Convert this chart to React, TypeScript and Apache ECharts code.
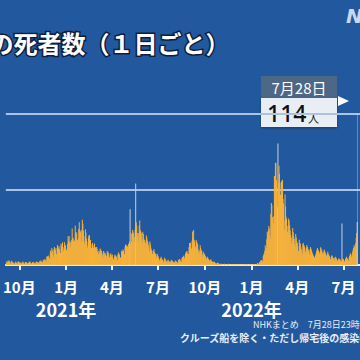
import React, { useEffect, useRef } from "react";
import * as echarts from "echarts";

// Daily deaths, month by month
const sep2020 = [9,6,3,9,12,10,11,8,5,3,10,11,8,7,6,5,2,4,7,9,6,5,3,7,10,8]; // from Sep 5
const oct2020 = [6,8,5,4,3,6,7,9,5,6,2,4,8,6,7,5,4,3,6,7,8,9,6,4,3,5,7,8,6,5,4];
const nov2020 = [7,3,4,9,8,6,7,5,3,10,9,12,10,8,6,8,14,12,11,16,13,9,10,21,24,20,22,25,18,15];
const dec2020 = [35,39,32,45,38,28,22,42,48,40,38,45,28,30,53,47,44,50,42,30,32,56,49,55,60,47,36,41,60,51,52];
const jan2021 = [40,38,44,56,76,64,77,59,62,48,58,66,97,73,70,64,61,65,104,86,79,86,65,66,70,96,113,93,89,86,62];
const feb2021 = [93,120,109,91,76,55,63,95,86,70,62,45,51,73,79,79,63,66,55,45,43,58,52,46,45,57,42,47];
const mar2021 = [34,48,43,35,38,30,28,36,44,41,31,38,27,19,32,37,33,26,31,28,18,24,37,32,34,28,21,17,28,31,26];
const apr2021 = [20,28,19,15,12,22,27,25,24,21,14,13,28,33,30,27,21,19,17,38,33,36,42,38,26,29,48,54,46,52];
const may2021 = [51,48,45,56,49,62,148,54,84,61,82,93,87,82,74,60,94,216,113,104,85,78,61,85,104,118,93,88,85,67,58];
const jun2021 = [88,82,70,62,66,58,45,78,72,64,60,52,44,36,62,55,46,40,38,30,26,38,42,34,29,30,24,18,30,27];
const jul2021 = [24,20,16,12,10,18,22,17,15,13,9,7,14,19,16,12,11,8,6,12,14,10,9,7,5,10,14,12,11,9,8];
const aug2021 = [7,5,8,12,10,9,7,6,5,12,14,16,15,11,10,8,18,21,19,23,25,18,14,30,33,35,37,31,26,29,47];
const sep2021 = [58,55,59,46,42,64,89,71,93,67,61,50,46,66,63,58,55,42,34,31,38,52,45,40,37,28,22,35,31,29];
const oct2021 = [28,24,20,18,15,22,19,16,14,12,9,13,15,11,10,8,5,7,9,8,6,4,5,3,4,6,5,4,3,2,3];
const nov2021 = [2,1,3,0,2,1,0,1,3,2,1,0,1,0,2,1,3,1,0,1,0,2,1,0,2,1,0,1,1,0];
const dec2021 = [1,0,2,1,0,1,2,0,1,1,0,0,1,2,1,0,1,0,1,2,1,1,0,2,1,0,1,1,2,1,0];
const jan2022 = [0,1,0,1,2,1,2,1,0,1,2,3,5,4,2,3,8,6,11,13,13,11,8,23,27,31,37,52,43,45,68];
const feb2022 = [88,81,91,103,97,79,71,135,164,158,125,127,110,129,236,236,271,270,225,205,153,322,218,263,242,218,186,143];
const mar2022 = [222,221,226,175,163,118,94,187,155,128,122,104,88,81,123,118,105,92,80,73,56,64,98,87,76,69,55,47,82,73,62];
const apr2022 = [58,50,38,35,67,59,56,48,42,34,28,55,58,52,49,44,36,30,47,53,48,43,39,33,27,41,48,44,39,35];
const may2022 = [30,28,24,22,20,18,26,31,36,42,45,40,38,33,29,35,47,44,40,35,30,26,34,41,38,33,30,26,22,28,35];
const jun2022 = [30,27,24,21,16,14,22,26,23,20,18,15,12,19,22,20,17,14,11,9,15,18,16,14,12,10,8,110,17,15];
const jul2022 = [15,12,9,8,16,19,22,18,16,12,11,20,24,28,31,27,22,19,35,41,46,52,48,42,58,71,85,114];

// [year, month, first day, values]
const monthBlocks: [number, number, number, number[]][] = [
  [2020, 9, 5, sep2020], [2020, 10, 1, oct2020], [2020, 11, 1, nov2020], [2020, 12, 1, dec2020],
  [2021, 1, 1, jan2021], [2021, 2, 1, feb2021], [2021, 3, 1, mar2021], [2021, 4, 1, apr2021],
  [2021, 5, 1, may2021], [2021, 6, 1, jun2021], [2021, 7, 1, jul2021], [2021, 8, 1, aug2021],
  [2021, 9, 1, sep2021], [2021, 10, 1, oct2021], [2021, 11, 1, nov2021], [2021, 12, 1, dec2021],
  [2022, 1, 1, jan2022], [2022, 2, 1, feb2022], [2022, 3, 1, mar2022], [2022, 4, 1, apr2022],
  [2022, 5, 1, may2022], [2022, 6, 1, jun2022], [2022, 7, 1, jul2022],
];
// empty days after the last report (axis continues)
const trailingDays = ["2022-07-29", "2022-07-30", "2022-07-31", "2022-08-01", "2022-08-02"];

// bars shown in pale colour (reports including backlog / latest day)
const highlightDates = ["2021-05-07", "2021-05-18", "2022-02-22", "2022-06-28", "2022-07-28"];
const tickMonths = [1, 4, 7, 10];
const yearLabels: Record<string, string> = { "2021-01-01": "2021年", "2022-01-01": "2022年" };

const titleText = "の死者数（１日ごと）";
const calloutDate = "7月28日";
const calloutValue = "114";
const calloutUnit = "人";
const calloutTarget = "2022-07-28";
const note1 = "NHKまとめ　7月28日23時59分時点";
const note2 = "クルーズ船を除く・ただし帰宅後の感染確認者は含む";

const pad = (n: number) => (n < 10 ? "0" + n : "" + n);

export default function App() {
  const ref = useRef<HTMLDivElement>(null);
  useEffect(() => {
    if (!ref.current) return;
    const chart = echarts.init(ref.current, undefined, { renderer: "svg" });
    const cats: string[] = [];
    const vals: any[] = [];
    monthBlocks.forEach(([y, m, d0, arr]) => {
      arr.forEach((v, i) => {
        const key = `${y}-${pad(m)}-${pad(d0 + i)}`;
        cats.push(key);
        vals.push(
          highlightDates.includes(key)
            ? { value: v, itemStyle: { color: "#c9d0dc" } }
            : v
        );
      });
    });
    trailingDays.forEach((k) => {
      cats.push(k);
      vals.push(null);
    });
    const isTick = (_i: number, value: string) => {
      const [, m, d] = value.split("-").map(Number);
      return d === 1 && tickMonths.includes(m);
    };
    const font = "'Noto Sans CJK JP', 'Noto Sans', sans-serif";
    chart.setOption({
      animation: false,
      backgroundColor: "#22599e",
      grid: { left: 0, right: 0, top: 114, bottom: 95 },
      xAxis: {
        type: "category",
        data: cats,
        boundaryGap: true,
        axisLine: { show: true, lineStyle: { color: "#e6edf6", width: 2 } },
        axisTick: {
          show: true,
          interval: isTick,
          alignWithLabel: true,
          length: 5,
          lineStyle: { color: "#e6edf6", width: 2 },
        },
        axisLabel: {
          interval: isTick,
          margin: 12,
          color: "#ffffff",
          fontFamily: font,
          formatter: (value: string) => {
            const m = Number(value.split("-")[1]);
            const mon = `{m|${m}月}`;
            return yearLabels[value] ? `${mon}\n{y|${yearLabels[value]}}` : mon;
          },
          rich: {
            m: { fontSize: 15, fontWeight: "bold", color: "#ffffff", lineHeight: 19, fontFamily: font },
            y: { fontSize: 18, fontWeight: "bold", color: "#ffffff", lineHeight: 26, fontFamily: font },
          },
        },
        splitLine: { show: false },
      },
      yAxis: {
        type: "value",
        min: 0,
        max: 400,
        interval: 200,
        axisLine: { show: false },
        axisTick: { show: false },
        axisLabel: { show: false },
        splitLine: { show: true, lineStyle: { color: "#a8c3e4", width: 2 } },
      },
      series: [
        {
          type: "bar",
          data: vals,
          barCategoryGap: "0%",
          barWidth: "100%",
          itemStyle: { color: "#f7b23b" },
          markLine: {
            silent: true,
            symbol: "none",
            label: { show: false },
            lineStyle: { color: "rgba(220,228,240,0.35)", width: 1, type: "solid" },
            data: [{ xAxis: calloutTarget }],
          },
        },
      ],
      graphic: [
        {
          type: "text",
          left: -12,
          top: 29,
          style: {
            text: titleText,
            fill: "#ffffff",
            stroke: "#0d1e3a",
            lineWidth: 3,
            font: `bold 24px ${font}`,
          },
        },
        {
          type: "text",
          left: 346,
          top: 6,
          style: {
            text: "NHK",
            fill: "#c9d9ef",
            font: `italic bold 20px 'DejaVu Sans', sans-serif`,
          },
        },
        { type: "rect", shape: { x: 261, y: 76, width: 76, height: 22 }, style: { fill: "#4d6887" } },
        {
          type: "rect",
          shape: { x: 261, y: 98, width: 76, height: 29 },
          style: { fill: "#e9eef5", shadowBlur: 3, shadowColor: "rgba(0,0,0,0.35)", shadowOffsetY: 1 },
        },
        {
          type: "text",
          x: 299,
          y: 87,
          style: {
            text: calloutDate,
            fill: "#ffffff",
            font: `15px ${font}`,
            textAlign: "center",
            textVerticalAlign: "middle",
          },
        },
        {
          type: "text",
          x: 267,
          y: 113,
          style: {
            text: calloutValue,
            fill: "#111111",
            font: `500 23px 'Noto Sans', sans-serif`,
            textVerticalAlign: "middle",
          },
        },
        {
          type: "text",
          x: 308,
          y: 118,
          style: {
            text: calloutUnit,
            fill: "#111111",
            font: `11px ${font}`,
            textVerticalAlign: "middle",
          },
        },
        {
          type: "polygon",
          shape: { points: [[338, 96], [349, 101], [338, 106]] },
          style: { fill: "#ffffff" },
        },
        {
          type: "text",
          x: 253,
          y: 324,
          style: { text: note1, fill: "#e8eef8", font: `9px ${font}`, lineHeight: 10, textVerticalAlign: "middle" },
        },
        {
          type: "text",
          x: 180,
          y: 337,
          style: { text: note2, fill: "#e8eef8", font: `bold 10px ${font}`, lineHeight: 11, textVerticalAlign: "middle" },
        },
      ],
    });
    return () => chart.dispose();
  }, []);
  return (
    <div
      ref={ref}
      style={{ position: "fixed", left: 0, top: 0, width: 360, height: 360 }}
    />
  );
}
